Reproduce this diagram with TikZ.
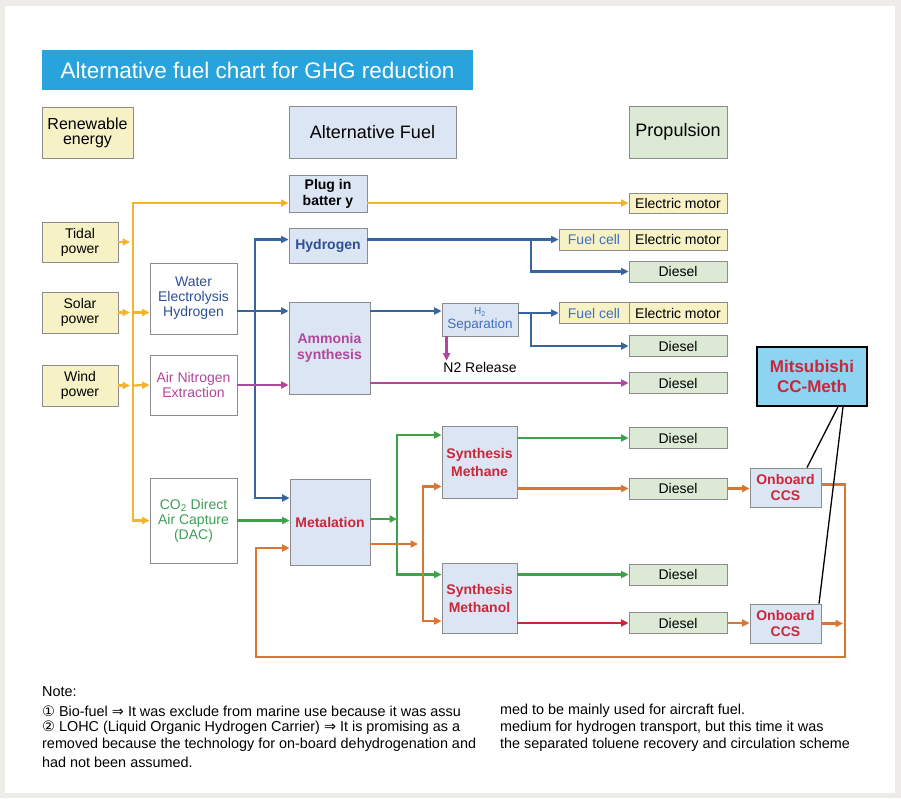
\documentclass[tikz,border=0pt]{standalone}
\usepackage{fontspec}
\setmainfont{Liberation Sans}
\newfontfamily\symfont{DejaVu Sans}
\usetikzlibrary{arrows.meta}

\definecolor{pagegray}{HTML}{EDECE8}
\definecolor{boxgray}{HTML}{8C8C8C}
\definecolor{ttlblue}{HTML}{29A3DC}
\definecolor{yelfill}{HTML}{F6F2C6}
\definecolor{bluefill}{HTML}{DCE5F3}
\definecolor{grnfill}{HTML}{DCEAD5}
\definecolor{mitfill}{HTML}{8DD3F2}
\definecolor{ylw}{HTML}{F0B431}
\definecolor{blu}{HTML}{3765A0}
\definecolor{dkblu}{HTML}{2E4F96}
\definecolor{fcblu}{HTML}{3F6FC0}
\definecolor{mag}{HTML}{B0479C}
\definecolor{grn}{HTML}{3FA24B}
\definecolor{grntxt}{HTML}{3D9F58}
\definecolor{org}{HTML}{DA7633}
\definecolor{rdl}{HTML}{C52B36}
\definecolor{rdtxt}{HTML}{C8283A}

\begin{document}
\begin{tikzpicture}[x=1pt,y=-1pt,
    wh/.style 2 args={minimum width=#1pt,minimum height=#2pt},
    lbl/.style={font=\fontsize{14}{15}\selectfont},
    blbl/.style={font=\fontsize{14}{16}\selectfont\bfseries},
    conn/.style={line width=2.3pt,-{Triangle[length=7.5pt,width=7pt]}},
    yl/.style={conn,draw=ylw},
    bl/.style={conn,draw=blu},
    mg/.style={conn,draw=mag},
    gn/.style={conn,draw=grn},
    og/.style={conn,draw=org},
    rd/.style={conn,draw=rdl}]

  \useasboundingbox (0,0) rectangle (901,798);
  \fill[pagegray] (0,0) rectangle (901,798);
  \fill[white] (5,6) rectangle (895,793);

  % title
  \node[fill=ttlblue,text=white,wh={431}{40},inner sep=0pt,
        font=\fontsize{22.5}{24}\selectfont] (title) at (257.5,70)
        {Alternative fuel chart for GHG reduction};

  % renewable energy and propulsion (yellow)
  \begin{scope}[every node/.style={draw=boxgray,line width=.8pt,fill=yelfill,
                                   inner sep=0pt,align=center,lbl}]
    \node[wh={91}{51},font=\fontsize{16}{15}\selectfont] (ren) at (87.5,132.5) {Renewable\\energy};
    \node[wh={76}{40}] (tidal) at (80,242)   {Tidal\\power};
    \node[wh={76}{41}] (solar) at (80,312.5) {Solar\\power};
    \node[wh={76}{41}] (wind)  at (80,385.5) {Wind\\power};
    \node[wh={98}{20}] (em1) at (678,203)   {Electric motor};
    \node[wh={70}{21},text=fcblu] (fc1) at (594,239.5) {Fuel cell};
    \node[wh={98}{21}] (em2) at (678,239.5) {Electric motor};
    \node[wh={70}{21},text=fcblu] (fc2) at (594,313) {Fuel cell};
    \node[wh={98}{21}] (em3) at (678,313)   {Electric motor};
  \end{scope}

  % alternative fuels (blue)
  \begin{scope}[every node/.style={draw=boxgray,line width=.8pt,fill=bluefill,
                                   inner sep=0pt,align=center,blbl}]
    \node[wh={167}{52},font=\fontsize{18}{20}\selectfont] (alt) at (372.5,132) {Alternative Fuel};
    \node[wh={78}{37}] (plug) at (328,193.5) {Plug in\\batter y};
    \node[wh={78}{35},text=dkblu] (hyd) at (328,245.5) {Hydrogen};
    \node[wh={76}{33},text=fcblu,font=\fontsize{13.5}{14}\selectfont] (h2s) at (480,319.5)
         {{\fontsize{10}{10}\selectfont H\textsubscript{2}}\\Separation};
    \node[wh={81}{92},text=mag] (amm) at (329.5,348) {Ammonia\\synthesis};
    \node[wh={80}{86},text=rdtxt] (met) at (330,522) {Metalation};
    \node[wh={75}{72},text=rdtxt,font=\fontsize{14}{18}\selectfont\bfseries] (sme) at (479.5,462) {Synthesis\\Methane};
    \node[wh={75}{70},text=rdtxt,font=\fontsize{14}{18}\selectfont\bfseries] (sml) at (479.5,598) {Synthesis\\Methanol};
    \node[wh={71}{39},text=rdtxt] (ccs1) at (785.5,487.5) {Onboard\\CCS};
    \node[wh={71}{39},text=rdtxt] (ccs2) at (785.5,623.5) {Onboard\\CCS};
  \end{scope}

  % conversion steps (white)
  \begin{scope}[every node/.style={draw=boxgray,line width=.8pt,fill=white,
                                   inner sep=0pt,align=center,lbl}]
    \node[wh={87}{71},text=dkblu] (weh) at (193.5,298.5) {Water\\Electrolysis\\Hydrogen};
    \node[wh={87}{60},text=mag] (ane) at (193.5,385) {Air Nitrogen\\Extraction};
    \node[wh={87}{85},text=grntxt] (dac) at (193.5,520.5) {CO\textsubscript{2} Direct\\Air Capture\\(DAC)};
  \end{scope}

  % propulsion (green)
  \begin{scope}[every node/.style={draw=boxgray,line width=.8pt,fill=grnfill,
                                   inner sep=0pt,align=center,lbl}]
    \node[wh={98}{52},font=\fontsize{18}{20}\selectfont] (prop) at (678,132) {Propulsion};
    \node[wh={98}{21}] (d1) at (678,271.5) {Diesel};
    \node[wh={98}{21}] (d2) at (678,346)   {Diesel};
    \node[wh={98}{21}] (d3) at (678,383)   {Diesel};
    \node[wh={98}{21}] (d4) at (678,438)   {Diesel};
    \node[wh={98}{21}] (d5) at (678,488.5) {Diesel};
    \node[wh={98}{21}] (d6) at (678,574.5) {Diesel};
    \node[wh={98}{21}] (d7) at (678,623)   {Diesel};
  \end{scope}

  \node[draw=black,line width=1.5pt,fill=mitfill,text=rdtxt,wh={110}{59},inner sep=0pt,
        align=center,font=\fontsize{17}{20}\selectfont\bfseries] (mit) at (812,376.5)
        {Mitsubishi\\CC-Meth};
  \node[lbl,inner sep=1pt] (n2rel) at (480,367) {N2 Release};

  % bus lines
  \coordinate (ybus) at (133,0);
  \coordinate (bbus) at (255,0);
  \coordinate (bj)   at (531,0);
  \coordinate (gj)   at (397,0);
  \coordinate (oj)   at (423,0);
  \coordinate (rowb) at (0,311);
  \coordinate (lr)   at (845,657);
  \coordinate (ll)   at (256,657);

  % yellow
  \draw[yl] (tidal.east) -- ([xshift=-3pt]ybus |- tidal);
  \draw[yl] (solar.east) -- ([xshift=-3pt]ybus |- solar);
  \draw[yl] (ybus |- solar) -- (weh.west |- solar);
  \draw[yl] (wind.east) -- ([xshift=-3pt]ybus |- wind);
  \draw[yl] (ybus |- wind) -- (ane.west);
  \draw[yl,{Triangle[length=7.5pt,width=7pt]}-{Triangle[length=7.5pt,width=7pt]}]
    (plug.west |- em1) -- (ybus |- em1) -- (ybus |- dac) -- (dac.west);
  \draw[yl] (plug.east |- em1) -- (em1.west);

  % blue
  \draw[bl,{Triangle[length=7.5pt,width=7pt]}-{Triangle[length=7.5pt,width=7pt]}]
    (hyd.west |- fc1) -- (bbus |- fc1) -- ([yshift=24pt]bbus |- met.west) -- ([yshift=24pt]met.west);
  \draw[bl] (weh.east |- rowb) -- (amm.west |- rowb);
  \draw[bl] (amm.east |- rowb) -- (h2s.west |- rowb);
  \draw[bl] (hyd.east |- fc1) -- (fc1.west);
  \draw[bl] (bj |- fc1) -- (bj |- d1) -- (d1.west);
  \draw[bl] (h2s.east |- fc2) -- (fc2.west);
  \draw[bl] (bj |- fc2) -- (bj |- d2) -- (d2.west);

  % magenta
  \draw[mg] (ane.east) -- (amm.west |- ane);
  \draw[mg] (amm.east |- d3) -- (d3.west);
  \draw[mg] ([xshift=5pt]h2s.south west) -- ([xshift=5pt]h2s.south west |- n2rel.north);

  % green
  \draw[gn] (dac.east) -- (met.west |- dac);
  \draw[gn] ([yshift=3pt]met.east) -- ([yshift=3pt]gj |- met.east);
  \draw[gn,{Triangle[length=7.5pt,width=7pt]}-{Triangle[length=7.5pt,width=7pt]}]
    ([yshift=3pt]sme.west |- d4) -- ([yshift=3pt]gj |- d4) -- (gj |- d6) -- (sml.west |- d6);
  \draw[gn] (sme.east |- d4) -- (d4.west);
  \draw[gn] (sml.east |- d6) -- (d6.west);

  % orange and red
  \draw[og] ([yshift=-22pt]met.east) -- ([yshift=-22pt,xshift=-5pt]oj |- met.east);
  \draw[og,{Triangle[length=7.5pt,width=7pt]}-{Triangle[length=7.5pt,width=7pt]}]
    ([yshift=2pt]sme.west |- d5) -- ([yshift=2pt]oj |- d5) -- ([yshift=2pt]oj |- d7) -- ([yshift=2pt]sml.west |- d7);
  \draw[og] (sme.east |- d5) -- (d5.west);
  \draw[rd] (sml.east |- d7) -- (d7.west);
  \draw[og] (d5.east) -- (ccs1.west |- d5);
  \draw[og] (d7.east) -- (ccs2.west |- d7);
  \draw[og] ([yshift=3pt]ccs1.east) -- ([yshift=3pt]lr |- ccs1) -- (lr) -- (ll)
    -- ([yshift=-26pt]ll |- met.west) -- ([yshift=-26pt]met.west);
  \draw[og] (ccs2.east) -- ([xshift=-2pt]lr |- ccs2);

  % Mitsubishi links
  \draw[line width=1.3pt] ([xshift=26pt]mit.south) -- ([xshift=21.5pt]ccs1.north);
  \draw[line width=1.3pt] ([xshift=31pt]mit.south) -- ([xshift=33.5pt]ccs2.north);

  % notes
  \begin{scope}[every node/.style={anchor=west,inner sep=0pt,font=\fontsize{14.4}{15}\selectfont}]
    \node (nt0) at (42,692) {Note:};
    \node (nt1) at (42,711) {{\symfont ①} Bio-fuel {\symfont ⇒} It was exclude from marine use because it was assu};
    \node (nt2) at (42,728) {{\symfont ②} LOHC (Liquid Organic Hydrogen Carrier) {\symfont ⇒} It is promising as a};
    \node (nt3) at (42,745) {removed because the technology for on-board dehydrogenation and};
    \node (nt4) at (42,762) {had not been assumed.};
    \node (nt5) at (500,711) {med to be mainly used for aircraft fuel.};
    \node (nt6) at (500,728) {medium for hydrogen transport, but this time it was};
    \node (nt7) at (500,745) {the separated toluene recovery and circulation scheme};
  \end{scope}

\end{tikzpicture}
\end{document}
